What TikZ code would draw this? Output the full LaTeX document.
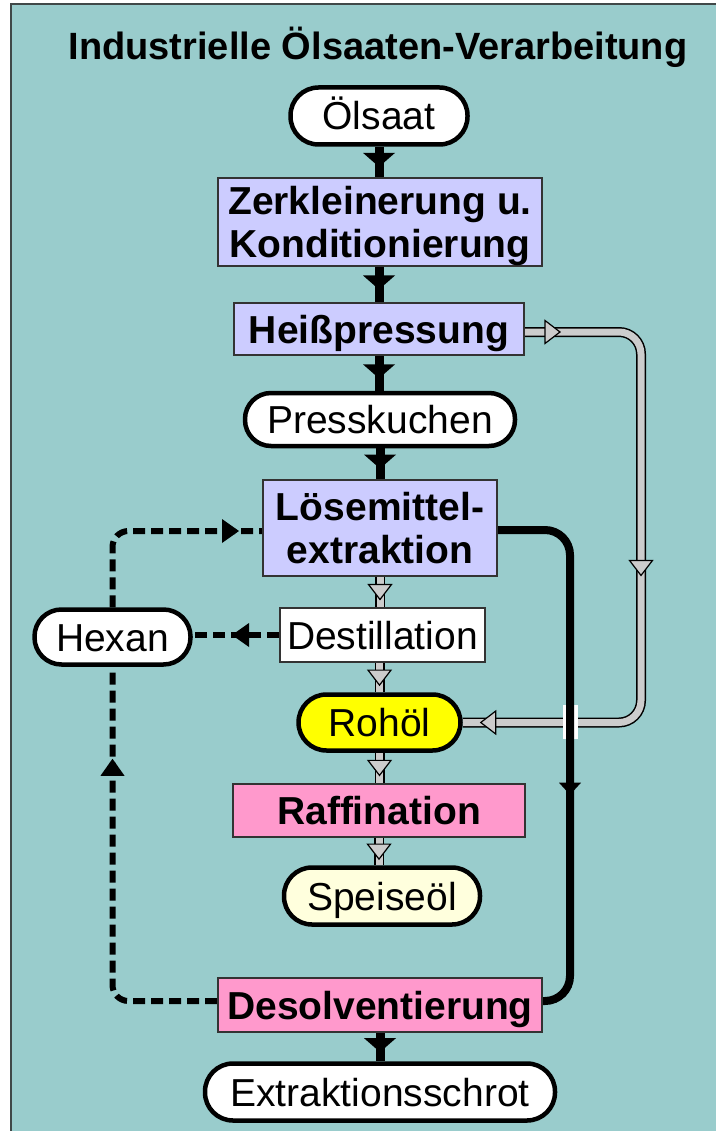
\documentclass[tikz,border=0pt]{standalone}
\usepackage{fontspec}
\setmainfont{Liberation Sans}
\usetikzlibrary{decorations.markings,calc}
\pgfdeclarelayer{bglayer}
\pgfdeclarelayer{connlayer}
\pgfsetlayers{bglayer,connlayer,main}
\definecolor{bgteal}{HTML}{99CCCC}
\definecolor{lav}{HTML}{CCCCFF}
\definecolor{pinkbox}{HTML}{FF99CC}
\definecolor{rohgelb}{HTML}{FFFF00}
\definecolor{speisegelb}{HTML}{FFFFDD}
\definecolor{pipegray}{HTML}{CCCCCC}
\definecolor{frame}{HTML}{333333}
\definecolor{outerframe}{HTML}{404848}
\newcommand\mypipehead{\filldraw[fill=pipegray, draw=black, line width=1.2pt, sharp corners, solid] (0pt,0pt) -- (-15pt,11.5pt) -- (-15pt,-11.5pt) -- cycle;}
\newcommand\mypipeheadmid{\filldraw[fill=pipegray, draw=black, line width=1.2pt, sharp corners, solid] (7.5pt,0pt) -- (-7.5pt,11.5pt) -- (-7.5pt,-11.5pt) -- cycle;}
\newcommand\myblackhead{\fill[black, sharp corners] (0pt,0pt) -- (-12pt,11pt) -- (-12pt,-11pt) -- cycle;}
\newcommand\mydashhead{\fill[black, sharp corners, solid] (0pt,0pt) -- (-17pt,12pt) -- (-17pt,-12pt) -- cycle;}
\newcommand\myflowhead{\fill[black, sharp corners] (5pt,0pt) -- (-9pt,16pt) -- (-9pt,-16pt) -- cycle;}
\tikzset{
  nodetext/.style={inner sep=0pt, align=center, text=black, font=\fontsize{39}{43}\selectfont},
  oneline/.style={text height=28pt, text depth=0pt},
  twolines/.style={text depth=0pt},
  procbox/.style={nodetext, draw=frame, line width=2pt, font=\fontsize{39}{43}\selectfont\bfseries},
  plainbox/.style={nodetext, oneline, draw=frame, line width=2pt, fill=white},
  pillnode/.style={nodetext, oneline, draw=black, line width=4.5pt, rounded corners=#1},
  flowarrow/.style={draw=black, line width=9pt, postaction={decorate},
    decoration={markings, mark=at position 0.5 with {\myflowhead}}},
  pipe/.style={draw=black, line width=1.5pt, double=pipegray, double distance=7pt},
  pipemid/.style={postaction={decorate},
    decoration={markings, mark=at position 0.5 with {\mypipeheadmid}}},
  dashline/.style={draw=black, line width=6pt, dash pattern=on 12pt off 6pt, rounded corners=16pt},
  heavyline/.style={draw=black, line width=8pt, rounded corners=25pt}
}
\begin{document}
\begin{tikzpicture}[x=1pt,y=-1pt]
\useasboundingbox (0,0) rectangle (716,1131);
\begin{pgfonlayer}{bglayer}
\fill[bgteal] (11,4) rectangle (716,1131);
\draw[outerframe, line width=2pt] (11,1131) -- (11,4) -- (716,4);
\end{pgfonlayer}

\node[font=\fontsize{38}{44}\selectfont\bfseries, anchor=base, inner sep=0pt] (title) at (378,60) {Industrielle Ölsaaten-Verarbeitung};

\node[pillnode=28pt, fill=white, minimum width=177pt, minimum height=57pt] (olsaat) at (379,116) {Ölsaat};
\node[procbox, twolines, fill=lav, minimum width=324pt, minimum height=88pt] (zerk) at (380,222) {Zerkleinerung u.\\Konditionierung};
\node[procbox, oneline, fill=lav, minimum width=290pt, minimum height=52pt] (heiss) at (379,329) {Heißpressung};
\node[pillnode=26pt, fill=white, minimum width=270pt, minimum height=53pt] (press) at (380,419.5) {Presskuchen};
\node[procbox, twolines, fill=lav, minimum width=234pt, minimum height=96pt] (loese) at (380,528) {Lösemittel-\\extraktion};
\node[plainbox, minimum width=205pt, minimum height=54pt] (destil) at (382.5,635) {Destillation};
\node[pillnode=27pt, fill=white, minimum width=156pt, minimum height=55pt] (hexan) at (112.5,637) {Hexan};
\node[pillnode=28pt, fill=rohgelb, minimum width=162pt, minimum height=56pt] (rohoel) at (379.5,722.5) {Rohöl};
\node[procbox, oneline, fill=pinkbox, minimum width=292pt, minimum height=53pt] (raff) at (379,810.5) {Raffination};
\node[pillnode=28pt, fill=speisegelb, minimum width=196pt, minimum height=57pt] (speise) at (382,896) {Speiseöl};
\node[procbox, oneline, fill=pinkbox, minimum width=324pt, minimum height=54pt] (desolv) at (380,1005) {Desolventierung};
\node[pillnode=28pt, fill=white, minimum width=350pt, minimum height=57pt] (schrot) at (380,1092) {Extraktionsschrot};

\coordinate (hp1) at (641,332);
\coordinate (hp2) at (641,722.5);
\coordinate (bl1) at (570,530);
\coordinate (bl2) at (570,1001);
\coordinate (br1) at (570,705);
\coordinate (br2) at (570,739);
\coordinate (dl1) at (112.5,531);
\coordinate (dl2) at (112.5,1001);

\begin{pgfonlayer}{connlayer}
% main solid flow
\draw[flowarrow] (olsaat.south) -- (olsaat.south |- zerk.north);
\draw[flowarrow] (heiss.north |- zerk.south) -- (heiss.north);
\draw[flowarrow] (heiss.south) -- (heiss.south |- press.north);
\draw[flowarrow] (press.south) -- (press.south |- loese.north);
\draw[flowarrow] (desolv.south) -- (desolv.south |- schrot.north);
% oil pipes
\draw[pipe, pipemid] (loese.south) -- (loese.south |- destil.north);
\draw[pipe, pipemid] (rohoel.north |- destil.south) -- (rohoel.north);
\draw[pipe, pipemid] (rohoel.south) -- (rohoel.south |- raff.north);
\draw[pipe, pipemid] (raff.south) -- (raff.south |- speise.north);
\draw[pipe, rounded corners=22pt, postaction={decorate},
  decoration={markings, mark=at position 35pt with {\mypipehead},
    mark=at position 350pt with {\mypipehead},
    mark=at position -18pt with {\mypipehead}}]
  ($(heiss.east)+(0,3)$) -- (hp1) -- (hp2) -- (rohoel.east);
% bridge over the pipe
\draw[white, line width=15pt] (br1) -- (br2);
% meal line
\draw[heavyline, postaction={decorate},
  decoration={markings, mark=at position 326pt with {\myblackhead}}]
  ($(loese.east)+(0,2)$) -- (bl1) -- (bl2) -- ($(desolv.east)+(0,-4)$);
% hexane loop
\draw[dashline, postaction={decorate},
  decoration={markings, mark=at position 47pt with {\mydashhead}}]
  (destil.west) -- (destil.west -| hexan.east);
\draw[dashline, postaction={decorate},
  decoration={markings, mark=at position -23pt with {\mydashhead}}]
  (hexan.north) -- (dl1) -- ($(loese.west)+(0,3)$);
\draw[dashline, postaction={decorate},
  decoration={markings, mark=at position -92pt with {\mydashhead}}]
  ($(desolv.west)+(0,-4)$) -- (dl2) -- (hexan.south);
\end{pgfonlayer}
\end{tikzpicture}
\end{document}
